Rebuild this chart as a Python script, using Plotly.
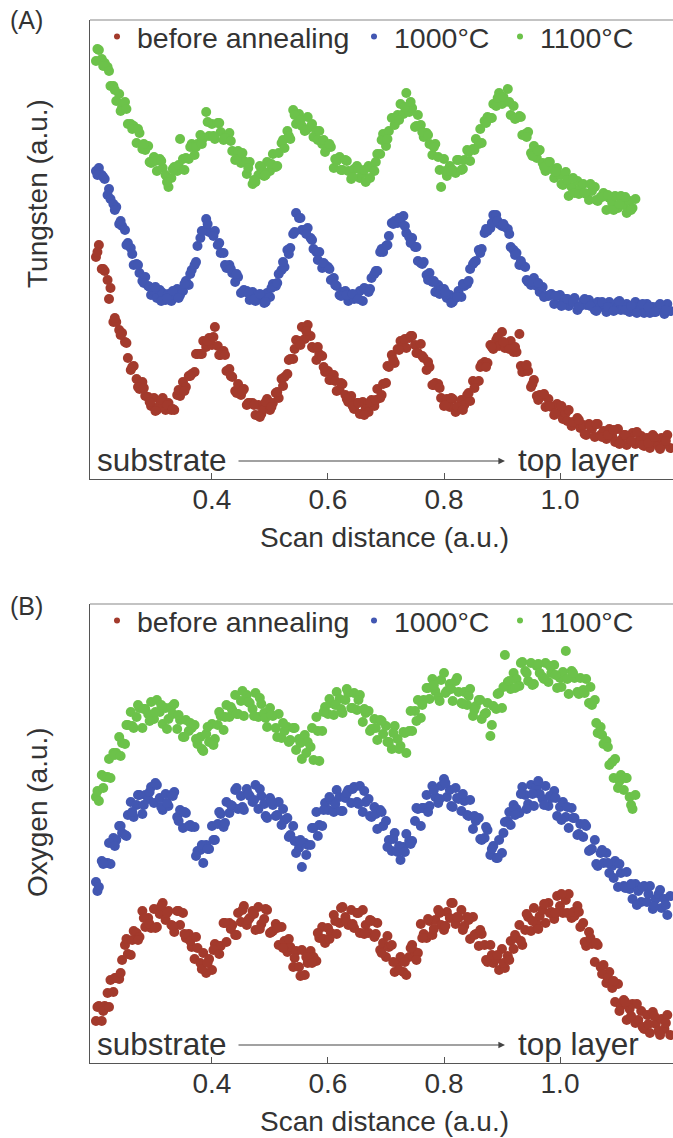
import plotly.graph_objects as go

FONT = "Liberation Sans, Arial, sans-serif"
W, H = 673, 1138

# ---------------- data (scan distance, a.u.) ----------------
# primary sampling positions
X_GRID = [
    0.200, 0.205, 0.210, 0.215, 0.220, 0.225, 0.230, 0.235, 0.240, 0.245,
    0.250, 0.255, 0.260, 0.265, 0.270, 0.275, 0.280, 0.285, 0.290, 0.295,
    0.300, 0.305, 0.310, 0.315, 0.320, 0.325, 0.330, 0.335, 0.340, 0.345,
    0.350, 0.355, 0.360, 0.365, 0.370, 0.375, 0.380, 0.385, 0.390, 0.395,
    0.400, 0.405, 0.410, 0.415, 0.420, 0.425, 0.430, 0.435, 0.440, 0.445,
    0.450, 0.455, 0.460, 0.465, 0.470, 0.475, 0.480, 0.485, 0.490, 0.495,
    0.500, 0.505, 0.510, 0.515, 0.520, 0.525, 0.530, 0.535, 0.540, 0.545,
    0.550, 0.555, 0.560, 0.565, 0.570, 0.575, 0.580, 0.585, 0.590, 0.595,
    0.600, 0.605, 0.610, 0.615, 0.620, 0.625, 0.630, 0.635, 0.640, 0.645,
    0.650, 0.655, 0.660, 0.665, 0.670, 0.675, 0.680, 0.685, 0.690, 0.695,
    0.700, 0.705, 0.710, 0.715, 0.720, 0.725, 0.730, 0.735, 0.740, 0.745,
    0.750, 0.755, 0.760, 0.765, 0.770, 0.775, 0.780, 0.785, 0.790, 0.795,
    0.800, 0.805, 0.810, 0.815, 0.820, 0.825, 0.830, 0.835, 0.840, 0.845,
    0.850, 0.855, 0.860, 0.865, 0.870, 0.875, 0.880, 0.885, 0.890, 0.895,
    0.900, 0.905, 0.910, 0.915, 0.920, 0.925, 0.930, 0.935, 0.940, 0.945,
    0.950, 0.955, 0.960, 0.965, 0.970, 0.975, 0.980, 0.985, 0.990, 0.995,
    1.000, 1.005, 1.010, 1.015, 1.020, 1.025, 1.030, 1.035, 1.040, 1.045,
    1.050, 1.055, 1.060, 1.065, 1.070, 1.075, 1.080, 1.085, 1.090, 1.095,
    1.100, 1.105, 1.110, 1.115, 1.120, 1.125, 1.130, 1.135, 1.140, 1.145,
    1.150, 1.155, 1.160, 1.165, 1.170, 1.175, 1.180, 1.185, 1.190,
]
# secondary (interleaved) sampling positions
X_GRID2 = [
    0.2025, 0.2125, 0.2225, 0.2325, 0.2425, 0.2525, 0.2625, 0.2725, 0.2825, 0.2925,
    0.3025, 0.3125, 0.3225, 0.3325, 0.3425, 0.3525, 0.3625, 0.3725, 0.3825, 0.3925,
    0.4025, 0.4125, 0.4225, 0.4325, 0.4425, 0.4525, 0.4625, 0.4725, 0.4825, 0.4925,
    0.5025, 0.5125, 0.5225, 0.5325, 0.5425, 0.5525, 0.5625, 0.5725, 0.5825, 0.5925,
    0.6025, 0.6125, 0.6225, 0.6325, 0.6425, 0.6525, 0.6625, 0.6725, 0.6825, 0.6925,
    0.7025, 0.7125, 0.7225, 0.7325, 0.7425, 0.7525, 0.7625, 0.7725, 0.7825, 0.7925,
    0.8025, 0.8125, 0.8225, 0.8325, 0.8425, 0.8525, 0.8625, 0.8725, 0.8825, 0.8925,
    0.9025, 0.9125, 0.9225, 0.9325, 0.9425, 0.9525, 0.9625, 0.9725, 0.9825, 0.9925,
    1.0025, 1.0125, 1.0225, 1.0325, 1.0425, 1.0525, 1.0625, 1.0725, 1.0825, 1.0925,
    1.1025, 1.1125, 1.1225, 1.1325, 1.1425, 1.1525, 1.1625, 1.1725, 1.1825,
]

SERIES_NAMES = ["before annealing", "1000°C", "1100°C"]

# ----- Panel (A): Tungsten signal (a.u.) -----
W_BEFORE = [
    222, 234, 210, 208, 199, 191, 157, 157, 149, 146,
    137, 121, 109, 113, 100, 90, 97, 83, 82, 73,
    81, 69, 74, 81, 69, 76, 69, 69, 84, 83,
    97, 92, 103, 105, 107, 125, 125, 138, 132, 141,
    134, 152, 133, 124, 128, 108, 110, 102, 88, 95,
    84, 90, 74, 76, 76, 64, 74, 65, 70, 80,
    69, 76, 86, 81, 100, 102, 105, 120, 120, 139,
    138, 152, 140, 154, 143, 131, 119, 125, 123, 107,
    108, 99, 104, 88, 89, 95, 84, 77, 83, 70,
    76, 65, 77, 70, 67, 79, 73, 90, 81, 95,
    96, 112, 124, 116, 130, 138, 133, 131, 141, 143,
    134, 126, 135, 121, 109, 112, 94, 96, 95, 81,
    73, 80, 72, 80, 67, 72, 79, 74, 84, 78,
    98, 97, 98, 115, 117, 116, 134, 130, 139, 133,
    147, 131, 135, 138, 127, 127, 145, 107, 108, 108,
    92, 99, 83, 84, 83, 72, 80, 72, 64, 75,
    66, 60, 66, 69, 53, 56, 61, 51, 54, 44,
    55, 50, 42, 55, 44, 48, 40, 50, 43, 37,
    50, 39, 44, 34, 42, 46, 35, 38, 43, 33,
    41, 31, 44, 37, 33, 41, 35, 44, 31,
]
W_BEFORE_2 = [
    227, 210, 180, 161, 144, 136, 112, 92, 91, 77,
    68, 79, 74, 70, 89, 88, 103, 125, 125, 138,
    142, 124, 124, 103, 86, 88, 76, 74, 62, 77,
    72, 87, 93, 119, 130, 134, 148, 132, 132, 112,
    99, 98, 96, 80, 73, 76, 64, 77, 79, 84,
    113, 119, 129, 140, 143, 126, 123, 117, 94, 91,
    74, 81, 72, 69, 86, 91, 112, 112, 132, 142,
    137, 130, 132, 113, 114, 95, 79, 85, 73, 66,
    73, 58, 57, 59, 45, 53, 55, 42, 44, 49,
    35, 44, 38, 47, 34, 36, 42, 30, 38,
]
W_1000 = [
    308, 311, 304, 300, 284, 280, 275, 272, 255, 253,
    249, 236, 231, 214, 215, 206, 198, 202, 193, 184,
    188, 181, 189, 186, 179, 185, 178, 184, 190, 184,
    188, 198, 194, 209, 214, 233, 241, 248, 260, 247,
    246, 248, 234, 226, 226, 211, 214, 206, 197, 202,
    186, 189, 188, 179, 187, 178, 180, 184, 176, 186,
    182, 195, 193, 205, 209, 212, 229, 231, 245, 266,
    261, 249, 249, 251, 241, 230, 227, 227, 211, 214,
    212, 199, 201, 193, 184, 187, 188, 178, 184, 180,
    181, 188, 178, 190, 187, 201, 205, 208, 227, 227,
    233, 243, 256, 258, 256, 258, 263, 246, 242, 241,
    232, 218, 216, 217, 204, 206, 197, 187, 194, 189,
    190, 181, 184, 177, 181, 188, 182, 193, 195, 210,
    215, 218, 229, 230, 246, 248, 251, 264, 264, 255,
    253, 252, 250, 232, 229, 226, 214, 214, 212, 197,
    194, 201, 193, 187, 192, 183, 183, 185, 175, 183,
    184, 177, 180, 173, 178, 181, 169, 173, 178, 174,
    179, 175, 169, 177, 172, 175, 167, 177, 172, 169,
    177, 169, 172, 175, 167, 171, 177, 169, 174, 166,
    175, 166, 172, 167, 173, 170, 165, 175, 168,
]
W_1000_2 = [
    304, 302, 290, 269, 258, 234, 225, 214, 196, 192,
    192, 178, 181, 188, 181, 195, 205, 217, 248, 255,
    243, 236, 214, 210, 205, 187, 186, 180, 185, 177,
    191, 196, 217, 225, 247, 261, 245, 239, 219, 216,
    210, 194, 183, 184, 185, 180, 191, 190, 208, 230,
    234, 255, 261, 253, 236, 232, 215, 199, 198, 185,
    187, 176, 182, 195, 198, 217, 226, 250, 256, 258,
    255, 245, 224, 218, 199, 197, 196, 182, 184, 183,
    173, 180, 177, 172, 180, 173, 168, 177, 172, 168,
    178, 169, 173, 166, 175, 172, 167, 175, 169,
]
W_1100 = [
    418, 429, 420, 416, 412, 393, 393, 378, 385, 372,
    377, 355, 355, 353, 336, 346, 330, 329, 333, 316,
    322, 308, 320, 311, 304, 292, 301, 312, 308, 340,
    320, 321, 320, 335, 324, 335, 344, 341, 367, 343,
    355, 340, 356, 347, 339, 343, 346, 328, 319, 328,
    316, 318, 305, 317, 295, 297, 304, 311, 303, 317,
    308, 325, 312, 326, 336, 331, 348, 340, 369, 355,
    365, 353, 348, 362, 352, 342, 348, 348, 335, 327,
    332, 332, 311, 318, 322, 309, 319, 308, 300, 310,
    313, 301, 306, 297, 313, 311, 308, 325, 325, 345,
    333, 348, 361, 354, 364, 375, 365, 386, 367, 371,
    352, 364, 354, 342, 346, 335, 324, 335, 322, 292,
    320, 303, 313, 309, 306, 319, 309, 319, 329, 318,
    330, 340, 335, 336, 358, 362, 361, 375, 373, 386,
    375, 377, 390, 364, 373, 361, 363, 344, 345, 347,
    326, 333, 321, 329, 316, 308, 317, 310, 301, 311,
    304, 294, 307, 283, 292, 286, 298, 291, 295, 285,
    279, 288, 292, 278, 282, 286, 269, 281, 276, 283,
    271, 283, 274, 266, 278, 271, 280,
]
W_1100_2 = [
    430, 413, 408, 389, 368, 370, 350, 350, 335, 317,
    318, 318, 297, 310, 314, 309, 332, 332, 335, 357,
    343, 356, 341, 338, 320, 326, 311, 299, 313, 304,
    315, 313, 339, 343, 364, 359, 349, 355, 339, 339,
    335, 320, 309, 318, 302, 310, 309, 301, 317, 339,
    340, 361, 359, 372, 377, 353, 347, 344, 332, 309,
    308, 308, 319, 310, 327, 329, 350, 356, 361, 381,
    382, 377, 360, 362, 342, 323, 328, 312, 317, 307,
    295, 299, 301, 285, 286, 295, 279, 282, 284, 269,
    275, 282, 269,
]

# ----- Panel (B): Oxygen signal (a.u.) -----
O_BEFORE = [
    42, 57, 42, 57, 70, 83, 71, 85, 84, 103,
    118, 109, 108, 132, 130, 126, 152, 136, 145, 135,
    154, 136, 149, 160, 143, 152, 138, 131, 152, 138,
    150, 125, 129, 116, 104, 115, 100, 110, 90, 104,
    93, 119, 117, 117, 140, 121, 140, 138, 128, 150,
    141, 157, 138, 145, 152, 133, 156, 139, 144, 153,
    130, 132, 139, 118, 136, 122, 111, 116, 96, 112,
    96, 113, 88, 100, 112, 106, 102, 125, 136, 120,
    135, 130, 148, 129, 140, 156, 146, 138, 153, 135,
    150, 130, 153, 138, 130, 142, 126, 140, 113, 120,
    106, 116, 118, 91, 100, 106, 91, 88, 106, 118,
    111, 110, 139, 129, 125, 142, 128, 143, 153, 138,
    133, 151, 145, 160, 139, 145, 153, 137, 146, 124,
    146, 129, 117, 129, 118, 101, 118, 100, 104, 93,
    114, 95, 107, 122, 114, 125, 138, 118, 133, 146,
    132, 155, 139, 147, 153, 140, 160, 151, 144, 167,
    157, 150, 163, 169, 145, 147, 157, 136, 140, 117,
    131, 119, 101, 118, 96, 98, 80, 91, 75, 61,
    79, 57, 63, 43, 54, 59, 40, 43, 52, 34,
    48, 30, 51, 39, 32, 44, 34, 48, 28,
]
O_BEFORE_2 = [
    56, 52, 56, 85, 90, 124, 123, 123, 145, 139,
    135, 157, 150, 137, 152, 129, 122, 126, 94, 100,
    113, 109, 140, 134, 128, 153, 143, 149, 134, 154,
    131, 135, 115, 124, 105, 87, 106, 100, 130, 124,
    124, 142, 155, 141, 139, 150, 129, 143, 129, 110,
    127, 101, 93, 101, 115, 103, 125, 144, 134, 150,
    137, 160, 146, 133, 143, 128, 133, 103, 108, 108,
    100, 103, 128, 122, 149, 142, 134, 159, 150, 150,
    169, 150, 151, 151, 121, 125, 120, 89, 85, 82,
    52, 61, 47, 59, 36, 39, 47, 28, 40,
]
O_1000 = [
    181, 176, 202, 200, 200, 199, 225, 223, 237, 230,
    228, 248, 261, 246, 258, 268, 249, 268, 264, 276,
    260, 278, 265, 253, 269, 257, 268, 271, 246, 253,
    235, 250, 237, 236, 236, 212, 213, 200, 218, 214,
    237, 223, 239, 249, 236, 261, 250, 257, 273, 254,
    267, 253, 274, 267, 261, 278, 254, 267, 259, 245,
    265, 258, 247, 261, 238, 243, 245, 228, 237, 210,
    215, 196, 220, 218, 218, 235, 251, 238, 237, 260,
    253, 263, 251, 273, 266, 252, 265, 273, 260, 276,
    261, 277, 251, 261, 264, 246, 256, 234, 253, 237,
    242, 223, 212, 230, 211, 203, 216, 229, 222, 222,
    242, 254, 237, 255, 268, 257, 277, 266, 260, 277,
    284, 266, 273, 256, 275, 264, 252, 262, 248, 263,
    234, 242, 245, 223, 225, 233, 208, 217, 205, 223,
    210, 241, 242, 238, 258, 254, 250, 276, 268, 259,
    278, 257, 276, 269, 264, 277, 257, 265, 272, 247,
    256, 261, 246, 235, 255, 245, 228, 239, 226, 237,
    212, 214, 223, 197, 210, 200, 210, 190, 197, 202,
    176, 190, 177, 191, 174, 164, 179, 172, 161, 177,
    161, 177, 154, 164, 169, 155, 164, 148, 167,
]
O_1000_2 = [
    172, 199, 220, 217, 237, 227, 251, 268, 258, 271,
    280, 256, 260, 267, 242, 251, 238, 207, 218, 214,
    223, 251, 240, 258, 275, 256, 269, 263, 274, 247,
    262, 248, 254, 226, 222, 223, 208, 235, 227, 253,
    266, 259, 252, 270, 274, 259, 272, 247, 249, 251,
    216, 224, 217, 211, 219, 255, 255, 251, 273, 264,
    280, 257, 265, 269, 247, 247, 224, 236, 214, 205,
    230, 251, 248, 269, 254, 269, 282, 258, 267, 265,
    243, 256, 245, 229, 239, 213, 199, 213, 200, 185,
    199, 175, 179, 158, 176, 169, 157, 173, 158,
]
O_1100 = [
    266, 262, 288, 286, 286, 285, 310, 310, 326, 320,
    319, 338, 351, 335, 346, 355, 335, 354, 349, 361,
    344, 363, 351, 339, 355, 344, 356, 359, 334, 343,
    326, 343, 332, 335, 338, 319, 326, 312, 329, 321,
    339, 324, 338, 347, 333, 358, 346, 353, 368, 349,
    362, 347, 368, 360, 354, 370, 346, 359, 350, 336,
    355, 347, 335, 349, 325, 332, 336, 323, 335, 313,
    324, 304, 328, 321, 316, 303, 346, 302, 332, 356,
    349, 360, 348, 371, 364, 350, 363, 370, 355, 370,
    353, 368, 341, 350, 352, 334, 344, 323, 343, 329,
    337, 321, 314, 337, 324, 317, 331, 310, 332, 332,
    352, 363, 345, 363, 375, 364, 384, 372, 366, 383,
    390, 372, 379, 362, 382, 371, 360, 371, 358, 374,
    347, 357, 363, 344, 349, 360, 327, 357, 354, 370,
    355, 408, 381, 374, 390, 384, 377, 401, 392, 382,
    400, 379, 397, 390, 386, 400, 381, 390, 398, 375,
    385, 391, 412, 369, 392, 385, 371, 385, 373, 384,
    360, 358, 363, 330, 336, 319, 322, 298, 301, 304,
    275, 288, 273, 285, 266, 254, 268,
]
O_1100_2 = [
    272, 275, 304, 308, 307, 338, 337, 358, 354, 342,
    351, 358, 334, 349, 348, 326, 340, 324, 314, 336,
    318, 351, 346, 356, 349, 372, 361, 347, 365, 345,
    348, 326, 340, 321, 335, 320, 310, 335, 332, 351,
    364, 358, 354, 374, 355, 363, 354, 332, 335, 342,
    321, 330, 314, 330, 352, 342, 358, 375, 378, 362,
    370, 374, 385, 359, 367, 353, 363, 350, 338, 369,
    376, 382, 375, 400, 390, 378, 399, 384, 397, 388,
    376, 384, 390, 369, 370, 376, 340, 328, 316, 285,
    282, 285, 258,
]

X_TICKS = [0.4, 0.6, 0.8, 1.0]
X_TICK_TEXT = ["0.4", "0.6", "0.8", "1.0"]

COLORS = ["#A33A2C", "#4257B2", "#6CC24A"]


# ---------------- layout helpers (pixel -> paper) ----------------
def PX(px):
    return px / W


def PY(py):
    return 1 - py / H


X_RANGE = [0.1897, 1.1948]
Y_RANGE = [0, 459]

fig = go.Figure()

# one legend box per key entry so each can sit where the original has it
panels = [
    ("x", "y", ["legend", "legend3", "legend4"], 37,
     [(W_BEFORE, W_BEFORE_2), (W_1000, W_1000_2), (W_1100, W_1100_2)]),
    ("x2", "y2", ["legend2", "legend5", "legend6"], 621,
     [(O_BEFORE, O_BEFORE_2), (O_1000, O_1000_2), (O_1100, O_1100_2)]),
]
LEGEND_LEFT = [97, 354, 500]

legend_layout = {}
for xa, ya, lgs, ly, ys in panels:
    for name, col, (y1, y2) in zip(SERIES_NAMES, COLORS, ys):
        xs = list(X_GRID[:len(y1)]) + list(X_GRID2[:len(y2)])
        fig.add_trace(go.Scatter(
            x=xs, y=list(y1) + list(y2), mode="markers", xaxis=xa, yaxis=ya,
            marker=dict(size=10, color=col, line=dict(width=0)),
            name=name, showlegend=False, hoverinfo="skip"))
    # legend entries (small dots, as in the original key)
    for name, col, lg, lx in zip(SERIES_NAMES, COLORS, lgs, LEGEND_LEFT):
        fig.add_trace(go.Scatter(
            x=[None], y=[None], mode="markers", xaxis=xa, yaxis=ya,
            marker=dict(size=6, color=col), name=name, legend=lg,
            showlegend=True))
        legend_layout[lg] = dict(
            orientation="h", x=PX(lx), xanchor="left", y=PY(ly),
            yanchor="middle", bgcolor="rgba(0,0,0,0)", itemwidth=30,
            font=dict(size=28.5, color="#333333", family=FONT))

TXT = "#333333"
AX = "#555555"

xcommon = dict(range=X_RANGE, tickvals=X_TICKS, ticktext=X_TICK_TEXT,
               ticks="inside", ticklen=6, tickwidth=1.2, tickcolor=AX,
               showline=True, linecolor=AX, linewidth=1.2, showgrid=False,
               zeroline=False, tickfont=dict(size=28, color=TXT, family=FONT),
               ticklabelstandoff=-5, fixedrange=True)
ycommon = dict(range=Y_RANGE, showticklabels=False, ticks="", showline=True,
               linecolor=AX, linewidth=1.2, showgrid=False, zeroline=False,
               fixedrange=True)

yA = [PY(479), PY(20)]
yB = [PY(1063), PY(604)]

fig.update_layout(
    width=W, height=H,
    margin=dict(l=0, r=0, t=0, b=0),
    paper_bgcolor="white", plot_bgcolor="white",
    font=dict(family=FONT, color=TXT, size=28),
    xaxis=dict(domain=[PX(90), 1], anchor="y", **xcommon),
    yaxis=dict(domain=yA, anchor="x", **ycommon),
    xaxis2=dict(domain=[PX(90), 1], anchor="y2", **xcommon),
    yaxis2=dict(domain=yB, anchor="x2", **ycommon),
    showlegend=True,
    **legend_layout,
)

# top frame lines
for ytop in (20, 604):
    fig.add_shape(type="line", xref="paper", yref="paper",
                  x0=PX(90), x1=1, y0=PY(ytop), y1=PY(ytop),
                  line=dict(color="#888888", width=1.2))

ann = []


def text(t, px, py, size=28, xanchor="center", angle=0):
    ann.append(dict(text=t, x=PX(px), y=PY(py), xref="paper", yref="paper",
                    showarrow=False, xanchor=xanchor, yanchor="middle",
                    textangle=angle,
                    font=dict(size=size, color=TXT, family=FONT)))


text("(A)", 8, 20, size=25, xanchor="left")
text("(B)", 8, 606, size=25, xanchor="left")
text("Scan distance (a.u.)", 384, 537)
text("Scan distance (a.u.)", 384, 1121)
text("Tungsten (a.u.)", 37, 194, angle=-90)
text("Oxygen (a.u.)", 37, 812, angle=-90)
for base in (460, 1044):
    text("substrate", 95, base, size=31.5, xanchor="left")
    text("top layer", 516, base, size=31.5, xanchor="left")
    ann.append(dict(text="", x=PX(505), y=PY(base + 1), xref="paper",
                    yref="paper", showarrow=True, ax=-268, ay=0,
                    arrowhead=2, arrowsize=1.1, arrowwidth=1.2,
                    arrowcolor="#444444", standoff=0, startstandoff=0))

fig.update_layout(annotations=ann)

fig.write_html("out.html")
